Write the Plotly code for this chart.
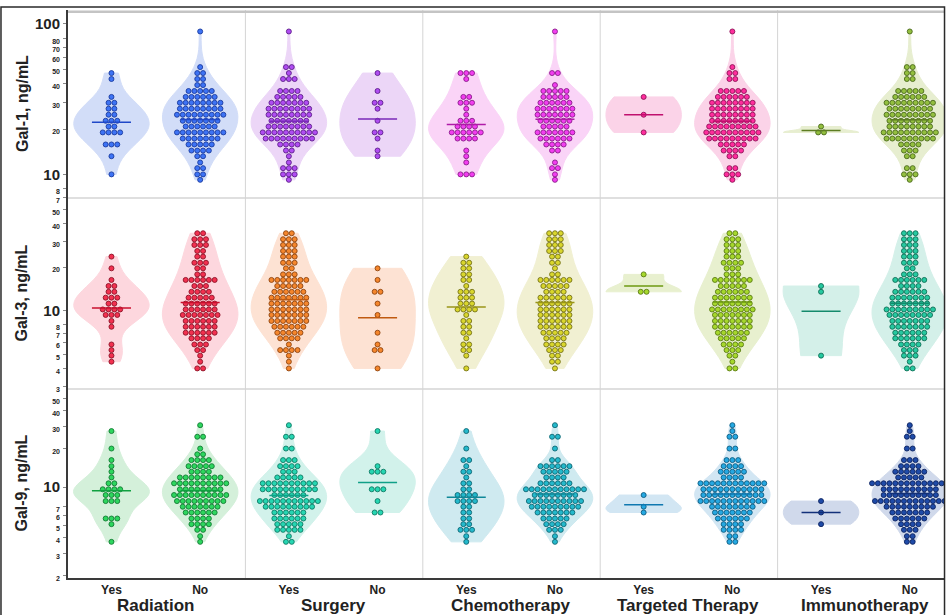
import numpy as np
import plotly.graph_objects as go

TREATMENTS = ["Radiation", "Surgery", "Chemotherapy", "Targeted Therapy", "Immunotherapy"]
ANSWERS = ["Yes", "No"]
GALECTINS = ["Gal-1", "Gal-3", "Gal-9"]

# ---- Gal-1: dot-plot bins (ng/mL) and patients per bin -------------------
GAL1_LEVELS = [9.2, 10.0, 11.0, 12.0, 13.2, 14.4, 15.8, 17.3, 19.0, 20.8, 22.7, 24.9, 27.3,
               29.9, 32.7, 35.8, 39.2, 43.0, 47.1, 51.6, 56.5, 61.9, 67.8, 74.2, 81.3, 89.0]
GAL1_RADIATION_YES = [0, 1, 0, 0, 1, 0, 3, 0, 4, 2, 3, 2, 2, 2, 1, 0, 0, 1, 1, 0, 0, 0, 0, 0, 0, 0]
GAL1_RADIATION_NO = [1, 2, 2, 1, 2, 4, 5, 7, 9, 6, 7, 9, 8, 8, 6, 5, 2, 2, 2, 1, 0, 0, 0, 0, 0, 1]
GAL1_SURGERY_YES = [1, 3, 3, 1, 1, 2, 4, 9, 10, 8, 7, 8, 8, 7, 5, 4, 0, 3, 1, 2, 0, 0, 0, 0, 0, 1]
GAL1_SURGERY_NO = [0, 0, 0, 0, 1, 1, 0, 1, 2, 0, 1, 0, 1, 2, 0, 1, 0, 0, 1, 0, 0, 0, 0, 0, 0, 0]
GAL1_CHEMO_YES = [0, 3, 0, 1, 1, 1, 0, 4, 6, 4, 3, 1, 1, 3, 2, 0, 0, 1, 3, 0, 0, 0, 0, 0, 0, 0]
GAL1_CHEMO_NO = [1, 1, 2, 1, 0, 2, 4, 6, 7, 5, 6, 7, 7, 6, 5, 5, 1, 0, 2, 0, 0, 0, 0, 0, 0, 1]
GAL1_TARGETED_YES = [0, 0, 0, 0, 0, 0, 0, 0, 1, 0, 0, 1, 0, 0, 1, 0, 0, 0, 0, 0, 0, 0, 0, 0, 0, 0]
GAL1_TARGETED_NO = [1, 3, 2, 0, 2, 4, 5, 9, 10, 9, 8, 8, 8, 8, 6, 5, 0, 2, 2, 1, 0, 0, 0, 0, 0, 1]
GAL1_IMMUNO_YES = [0, 0, 0, 0, 0, 0, 0, 0, 2, 1, 0, 0, 0, 0, 0, 0, 0, 0, 0, 0, 0, 0, 0, 0, 0, 0]
GAL1_IMMUNO_NO = [1, 3, 2, 0, 2, 3, 4, 9, 10, 8, 8, 9, 8, 9, 6, 5, 0, 2, 2, 2, 0, 0, 0, 0, 0, 1]

# ---- Gal-3 -----------------------------------------------------------------
GAL3_LEVELS = [4.0, 4.45, 4.9, 5.35, 5.85, 6.45, 7.05, 7.75, 8.5, 9.35, 10.2, 11.2, 12.3,
               13.5, 14.8, 16.3, 17.8, 19.6, 21.4, 23.6, 25.8, 28.4, 31.1, 34.2]
GAL3_RADIATION_YES = [0, 1, 1, 1, 1, 0, 0, 1, 1, 3, 4, 2, 3, 2, 2, 1, 0, 1, 0, 1, 0, 0, 0, 0]
GAL3_RADIATION_NO = [2, 1, 1, 2, 3, 4, 6, 6, 6, 7, 6, 6, 5, 4, 3, 6, 2, 2, 3, 2, 2, 3, 3, 2]
GAL3_SURGERY_YES = [1, 1, 1, 4, 1, 4, 5, 6, 7, 7, 7, 7, 7, 6, 5, 7, 3, 2, 3, 3, 3, 3, 3, 2]
GAL3_SURGERY_NO = [1, 0, 0, 2, 1, 0, 1, 0, 0, 1, 0, 1, 0, 2, 0, 1, 0, 1, 0, 0, 0, 0, 0, 0]
GAL3_CHEMO_YES = [1, 0, 1, 2, 2, 1, 2, 2, 2, 1, 4, 3, 3, 3, 1, 2, 2, 2, 2, 1, 0, 0, 0, 0]
GAL3_CHEMO_NO = [1, 2, 2, 3, 4, 4, 5, 6, 6, 6, 6, 6, 6, 4, 5, 6, 2, 1, 2, 2, 3, 3, 3, 3]
GAL3_TARGETED_YES = [0, 0, 0, 0, 0, 0, 0, 0, 0, 0, 0, 0, 0, 2, 0, 0, 1, 0, 0, 0, 0, 0, 0, 0]
GAL3_TARGETED_NO = [2, 1, 2, 3, 4, 5, 6, 7, 7, 7, 8, 7, 7, 6, 5, 7, 3, 3, 4, 3, 3, 3, 3, 2]
GAL3_IMMUNO_YES = [0, 0, 1, 0, 0, 0, 0, 0, 0, 0, 0, 0, 0, 1, 1, 0, 0, 0, 0, 0, 0, 0, 0, 0]
GAL3_IMMUNO_NO = [2, 1, 3, 3, 4, 6, 6, 7, 7, 8, 9, 7, 7, 6, 4, 6, 3, 2, 3, 3, 3, 3, 3, 3]

# ---- Gal-9 -----------------------------------------------------------------
GAL9_LEVELS = [3.7, 4.1, 4.6, 5.1, 5.65, 6.3, 7.0, 7.75, 8.65, 9.6, 10.7, 11.9, 13.2,
               14.6, 16.3, 18.1, 20.1, 22.4, 24.9, 27.6, 30.7, 34.2]
GAL9_RADIATION_YES = [1, 0, 0, 1, 3, 0, 0, 3, 3, 4, 2, 1, 1, 1, 1, 0, 1, 0, 0, 1, 0, 0]
GAL9_RADIATION_NO = [1, 1, 2, 4, 4, 6, 7, 9, 10, 8, 10, 8, 4, 5, 4, 2, 1, 0, 2, 0, 1, 0]
GAL9_SURGERY_YES = [2, 1, 5, 5, 6, 6, 9, 11, 6, 10, 10, 5, 3, 4, 3, 0, 2, 0, 2, 0, 1, 0]
GAL9_SURGERY_NO = [0, 0, 0, 0, 0, 2, 0, 1, 0, 3, 0, 0, 3, 1, 0, 0, 0, 0, 0, 1, 0, 0]
GAL9_CHEMO_YES = [1, 1, 3, 2, 2, 2, 2, 4, 4, 2, 2, 1, 2, 1, 2, 0, 1, 0, 0, 1, 0, 0]
GAL9_CHEMO_NO = [1, 1, 3, 4, 5, 7, 9, 10, 8, 11, 6, 4, 5, 6, 2, 0, 1, 0, 2, 0, 1, 0]
GAL9_TARGETED_YES = [0, 0, 0, 0, 0, 1, 1, 0, 1, 0, 0, 0, 0, 0, 0, 0, 0, 0, 0, 0, 0, 0]
GAL9_TARGETED_NO = [2, 2, 4, 4, 6, 7, 8, 12, 11, 11, 12, 4, 5, 4, 3, 0, 2, 0, 2, 1, 1, 0]
GAL9_IMMUNO_YES = [0, 0, 0, 1, 0, 1, 0, 1, 0, 0, 0, 0, 0, 0, 0, 0, 0, 0, 0, 0, 0, 0]
GAL9_IMMUNO_NO = [2, 2, 3, 4, 6, 7, 9, 13, 10, 10, 14, 5, 6, 4, 3, 0, 2, 0, 2, 1, 1, 0]

# ---- y-axis tick values (ng/mL) ---------------------------------------------
GAL1_TICKS = [7, 8, 10, 20, 30, 40, 50, 60, 70, 80, 100]
GAL3_TICKS = [3, 4, 5, 6, 7, 8, 10, 20, 30, 40, 50]
GAL9_TICKS = [2, 3, 4, 5, 6, 7, 10, 20, 30, 40, 50]

LEVELS = {"Gal-1": GAL1_LEVELS, "Gal-3": GAL3_LEVELS, "Gal-9": GAL9_LEVELS}
TICKS = {"Gal-1": GAL1_TICKS, "Gal-3": GAL3_TICKS, "Gal-9": GAL9_TICKS}
COUNTS = {
    "Gal-1": [(GAL1_RADIATION_YES, GAL1_RADIATION_NO), (GAL1_SURGERY_YES, GAL1_SURGERY_NO),
              (GAL1_CHEMO_YES, GAL1_CHEMO_NO), (GAL1_TARGETED_YES, GAL1_TARGETED_NO),
              (GAL1_IMMUNO_YES, GAL1_IMMUNO_NO)],
    "Gal-3": [(GAL3_RADIATION_YES, GAL3_RADIATION_NO), (GAL3_SURGERY_YES, GAL3_SURGERY_NO),
              (GAL3_CHEMO_YES, GAL3_CHEMO_NO), (GAL3_TARGETED_YES, GAL3_TARGETED_NO),
              (GAL3_IMMUNO_YES, GAL3_IMMUNO_NO)],
    "Gal-9": [(GAL9_RADIATION_YES, GAL9_RADIATION_NO), (GAL9_SURGERY_YES, GAL9_SURGERY_NO),
              (GAL9_CHEMO_YES, GAL9_CHEMO_NO), (GAL9_TARGETED_YES, GAL9_TARGETED_NO),
              (GAL9_IMMUNO_YES, GAL9_IMMUNO_NO)],
}

# ---- styling: (dot, dot edge, violin fill, centre line) per treatment ----------
STYLE = {
    "Gal-1": [("#3d73f5", "#1b3b9e", "#d2ddf8", "#2048c8"),
              ("#b04cf2", "#5e1f8a", "#ecd6f7", "#7a2ab8"),
              ("#f23df0", "#8a1d8a", "#fad4f7", "#b01aa8"),
              ("#ff2c9c", "#8f1458", "#fbd3e8", "#c0106e"),
              ("#93bf3f", "#4b6a1c", "#e7eed0", "#5d7d22")],
    "Gal-3": [("#f2304f", "#8c1428", "#fdd7de", "#c8102e"),
              ("#f5862c", "#8e4410", "#fde2d3", "#c05a10"),
              ("#d9d62c", "#76731a", "#f1f0d2", "#9a9618"),
              ("#a6d82c", "#5a7a14", "#e8f0cf", "#6e9a12"),
              ("#26c9a0", "#0f6e56", "#d4f0e9", "#148a6c")],
    "Gal-9": [("#2dd65e", "#137a33", "#d4f0da", "#10a040"),
              ("#26d6b2", "#0e7a64", "#d2f2eb", "#10a088"),
              ("#24b9cc", "#0e6874", "#cfeaf0", "#108898"),
              ("#25a8e2", "#0e5c80", "#d2e6f3", "#1078b0"),
              ("#1f4ba8", "#0c2260", "#d0d9eb", "#12307a")],
}

# panel geometry
ROW_DOMAINS = [[0.669, 1.0], [0.3327, 0.669], [0.0, 0.3327]]
ROW_RANGES = [[0.843, 2.092], [0.46, 1.777], [0.2835, 1.772]]
X_MAX = 9.876
PX_PER_UNIT = 876 / X_MAX
DX = 5.8 / PX_PER_UNIT          # horizontal spacing between stacked dots
VIOLIN_WIDTH = 0.85
LINE_HALF = 0.22
FONT = "Liberation Sans, Arial, sans-serif"


def slot(gi, ai):
    return 2 * gi + 0.49 + ai


def smooth_bandwidth(v):
    """Silverman's rule, widened a little for smoother outlines."""
    n = len(v)
    sd = np.std(v, ddof=1)
    q1, q3 = np.percentile(v, [25, 75])
    spread = min(sd, (q3 - q1) / 1.349) if q3 > q1 else sd
    return 1.2 * 1.059 * spread * n ** -0.2


fig = go.Figure()

for r, gal in enumerate(GALECTINS):
    xa = "x" if r == 0 else f"x{r + 1}"
    ya = "y" if r == 0 else f"y{r + 1}"
    logs = np.log10(np.array(LEVELS[gal], dtype=float))
    for gi, treat in enumerate(TREATMENTS):
        dot, edge, fill, mline = STYLE[gal][gi]
        for ai, ans in enumerate(ANSWERS):
            counts = np.array(COUNTS[gal][gi][ai])
            pos = slot(gi, ai)
            vals = np.repeat(logs, counts)

            fig.add_trace(go.Violin(
                y=vals, x0=pos, width=VIOLIN_WIDTH, side="both",
                spanmode="hard", points=False, bandwidth=smooth_bandwidth(vals),
                fillcolor=fill, line=dict(color=fill, width=1),
                box_visible=False, meanline_visible=False,
                hoverinfo="skip", showlegend=False, xaxis=xa, yaxis=ya,
                name=f"{gal} {treat} {ans}",
            ))

            xs, ys = [], []
            for lv, n in zip(logs, counts):
                for j in range(n):
                    xs.append(pos + (j - (n - 1) / 2) * DX)
                    ys.append(lv)
            fig.add_trace(go.Scatter(
                x=xs, y=ys, mode="markers", xaxis=xa, yaxis=ya,
                marker=dict(size=5, color=dot, line=dict(color=edge, width=0.9)),
                hoverinfo="skip", showlegend=False,
            ))

            centre = float(vals.mean())
            fig.add_trace(go.Scatter(
                x=[pos - LINE_HALF, pos + LINE_HALF], y=[centre, centre],
                mode="lines", line=dict(color=mline, width=1.5),
                xaxis=xa, yaxis=ya, hoverinfo="skip", showlegend=False,
            ))

tick_pos = [slot(gi, ai) for gi in range(len(TREATMENTS)) for ai in range(2)]
tick_txt = [ans for _ in TREATMENTS for ans in ANSWERS]

layout_axes = {}
for r, gal in enumerate(GALECTINS):
    xk = "xaxis" if r == 0 else f"xaxis{r + 1}"
    yk = "yaxis" if r == 0 else f"yaxis{r + 1}"
    ya = "y" if r == 0 else f"y{r + 1}"
    xa = "x" if r == 0 else f"x{r + 1}"
    layout_axes[xk] = dict(
        domain=[0, 1], range=[0, X_MAX], anchor=ya, type="linear",
        showgrid=False, zeroline=False, showline=(r == 2),
        linecolor="#3a3a3a", linewidth=2,
        tickvals=tick_pos, ticktext=tick_txt, showticklabels=(r == 2), ticks="",
        tickfont=dict(family=FONT, size=12, weight="bold", color="#222"),
    )
    tv = TICKS[gal]
    tt = [f"{v}" if v in (10, 100) else f'<span style="font-size:7px">{v}</span>' for v in tv]
    layout_axes[yk] = dict(
        domain=ROW_DOMAINS[r], range=ROW_RANGES[r], anchor=xa, type="linear",
        tickvals=list(np.log10(tv)), ticktext=tt,
        ticks="outside", ticklen=3, tickwidth=1, tickcolor="#888",
        showline=True, linecolor="#3a3a3a", linewidth=2,
        showgrid=False, zeroline=False,
        tickfont=dict(family=FONT, size=15, weight="bold", color="#222"),
    )

shapes = []
for b in [2, 4, 6, 8]:
    shapes.append(dict(type="line", xref="x", yref="paper", x0=b, x1=b, y0=0, y1=1,
                       line=dict(color="#d4d4d4", width=1), layer="below"))
for yb in [0.669, 0.3327]:
    shapes.append(dict(type="line", xref="paper", yref="paper", x0=0, x1=1, y0=yb, y1=yb,
                       line=dict(color="#d4d4d4", width=1.5), layer="below"))
shapes.append(dict(type="line", xref="paper", yref="paper", x0=0, x1=1, y0=0.997, y1=0.997,
                   line=dict(color="#c4c4c4", width=2.5), layer="below"))
shapes.append(dict(type="rect", xref="paper", yref="paper",
                   x0=-0.0765, x1=1.0006, y0=-0.08, y1=1.0053,
                   line=dict(color="#2a2a2a", width=1.5), fillcolor="rgba(0,0,0,0)"))

annotations = []
for r, gal in enumerate(GALECTINS):
    yc = sum(ROW_DOMAINS[r]) / 2
    annotations.append(dict(
        text=f"{gal}, ng/mL", xref="paper", yref="paper", x=-0.0525, y=yc,
        textangle=-90, showarrow=False, xanchor="center", yanchor="middle",
        font=dict(family=FONT, size=16, weight="bold", color="#222"),
    ))
for gi, treat in enumerate(TREATMENTS):
    annotations.append(dict(
        text=treat, xref="x3", yref="paper", x=2 * gi + 0.99, y=-0.049,
        showarrow=False, xanchor="center", yanchor="middle",
        font=dict(family=FONT, size=17, weight="bold", color="#222"),
    ))

fig.update_layout(
    width=946, height=615,
    margin=dict(l=68, r=2, t=10, b=37),
    paper_bgcolor="white", plot_bgcolor="white",
    violinmode="overlay", violingap=0, showlegend=False,
    font=dict(family=FONT, color="#222"),
    shapes=shapes, annotations=annotations,
    **layout_axes,
)

fig.write_html("out.html")
